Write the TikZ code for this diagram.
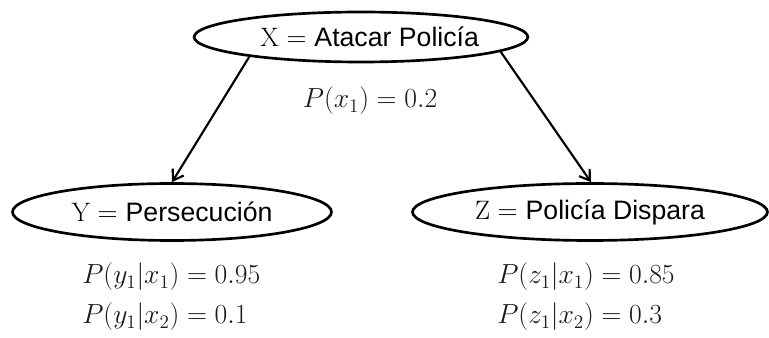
\documentclass[tikz,border=0pt]{standalone}
\usepackage{amsmath}
\usepackage{fontspec}
\usepackage{tikz}
\usetikzlibrary{arrows.meta,positioning,shapes.geometric}
\newfontfamily\bnsans{Liberation Sans}
\newcommand{\bnvar}[2]{\(\mathrm{#1}=\) {\bnsans #2}}
\definecolor{bnink}{HTML}{1A1A1A}
\tikzset{
  varNode/.style={ellipse, draw=black, line width=2pt, inner sep=0pt, font=\fontsize{20}{24}\selectfont},
  probArrow/.style={-{Straight Barb[length=2.6mm,width=3.4mm]}, line width=1.6pt, draw=black},
  probLabel/.style={font=\fontsize{20.5}{24}\selectfont, text=bnink, inner sep=0pt}
}
\begin{document}
\begin{tikzpicture}[x=0.75pt,y=-0.75pt]
  \useasboundingbox (0,0) rectangle (769,338);
  \node[varNode, minimum width=234.75pt, minimum height=37.5pt] (atacar) at (361,37) {\hspace*{13pt}\bnvar{X}{Atacar Policía}};
  \node[varNode, minimum width=239.25pt, minimum height=42.75pt] (persec) at (172,212) {\bnvar{Y}{Persecución}};
  \node[varNode, minimum width=266.25pt, minimum height=42.75pt] (dispara) at (590,212) {\bnvar{Z}{Policía Dispara}};
  \draw[probArrow] (atacar.190) -- (persec.north);
  \draw[probArrow] (atacar.354) -- (dispara.88);
  \node[probLabel] (px) at (370,101) {\(P(x_1)=0.2\)};
  \node[probLabel, anchor=west] (py1) at (82,277) {\(P(y_1|x_1)=0.95\)};
  \node[probLabel, anchor=west] (py2) at (82,317) {\(P(y_1|x_2)=0.1\)};
  \node[probLabel, anchor=west] (pz1) at (497,277) {\(P(z_1|x_1)=0.85\)};
  \node[probLabel, anchor=west] (pz2) at (497,317) {\(P(z_1|x_2)=0.3\)};
\end{tikzpicture}
\end{document}
